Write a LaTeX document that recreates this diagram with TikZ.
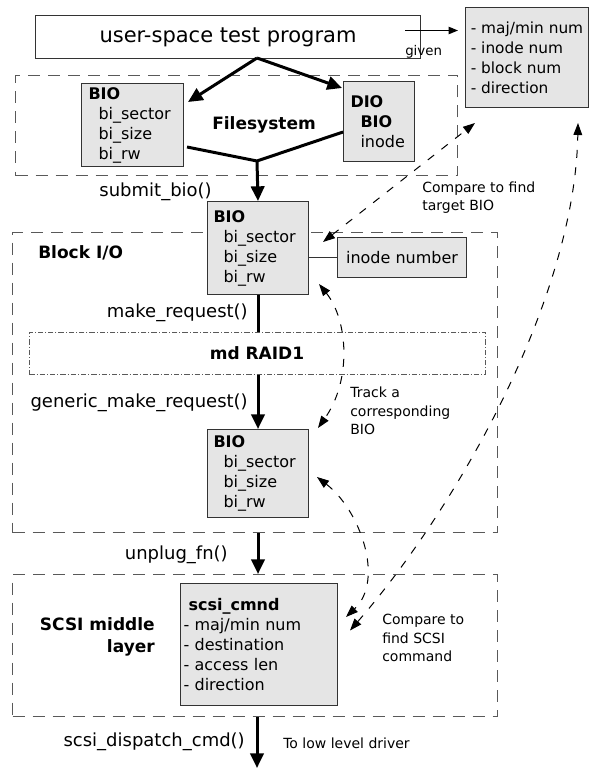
\documentclass[tikz,border=0pt]{standalone}
\usepackage{fontspec}
\setmainfont{DejaVu Sans}
\usetikzlibrary{arrows.meta}
\begin{document}
\begin{tikzpicture}[x=0.75pt,y=-0.75pt,
  box/.style={draw=black!80, line width=0.75pt, inner ysep=0pt, font=\fontsize{12}{15}\selectfont},
  graybox/.style={box, fill=black!10},
  container/.style={draw=black!65, line width=0.75pt, dash pattern=on 9pt off 6pt, inner sep=0pt, anchor=north west},
  raidbox/.style={draw=black!65, line width=0.6pt, dash pattern=on 4pt off 1.5pt on 0.75pt off 1.5pt, inner sep=0pt, anchor=north west},
  flow/.style={line width=2.25pt, -{Triangle[length=11pt,width=10pt]}},
  flowline/.style={line width=2.25pt},
  thinarrow/.style={line width=0.9pt, -{Triangle[length=7pt,width=5.5pt]}},
  track/.style={line width=0.75pt, dash pattern=on 6pt off 7pt, {Triangle[length=9pt,width=6.5pt]}-{Triangle[length=9pt,width=6.5pt]}},
  fn/.style={font=\fontsize{13.5}{16}\selectfont, inner sep=0pt},
  note/.style={font=\fontsize{10.5}{14}\selectfont, inner sep=0pt, align=left},
  head/.style={font=\bfseries\fontsize{12.75}{16}\selectfont, inner sep=0pt},
]
\useasboundingbox (0,0) rectangle (589,770);

% containers
\node[container, minimum width=331.5pt, minimum height=75pt] (fs) at (15,75) {};
\node[container, minimum width=363.75pt, minimum height=225pt] (blockio) at (12,232) {};
\node[raidbox, minimum width=342pt, minimum height=31.5pt] (raid) at (29,332) {};
\node[container, minimum width=363.75pt, minimum height=106.5pt] (scsi) at (12,574) {};

% boxes
\node[box, anchor=north west, minimum width=288.75pt, minimum height=32.25pt, font=\fontsize{15.75}{18}\selectfont] (top) at (35,15) {user-space test program};
\node[graybox, anchor=north west, minimum width=92.25pt, minimum height=75pt, align=left, font=\fontsize{11.5}{15}\selectfont] (given) at (465,7) {- maj/min num\\- inode num\\- block num\\- direction};
\node[graybox, anchor=north west, minimum width=76.5pt, minimum height=62.25pt, inner xsep=5.25pt, text width=66pt, align=left] (bio1) at (81,83) {\textbf{BIO}\\\hspace*{7.5pt}bi\_sector\\\hspace*{7.5pt}bi\_size\\\hspace*{7.5pt}bi\_rw};
\node[graybox, anchor=north west, minimum width=53.25pt, minimum height=60pt, inner xsep=5.25pt, text width=42.75pt, align=left] (dio) at (343,81) {\textbf{DIO}\\\hspace*{7.5pt}\textbf{BIO}\\\hspace*{7.5pt}inode};
\node[graybox, anchor=north west, minimum width=75.75pt, minimum height=69.75pt, inner xsep=4.5pt, text width=66.75pt, align=left] (bio2) at (207,201) {\textbf{BIO}\\\hspace*{7.5pt}bi\_sector\\\hspace*{7.5pt}bi\_size\\\hspace*{7.5pt}bi\_rw};
\node[graybox, anchor=north west, minimum width=96.75pt, minimum height=30pt] (inode) at (337,237) {inode number};
\node[graybox, anchor=north west, minimum width=75.75pt, minimum height=66pt, inner xsep=4.5pt, text width=66.75pt, align=left] (bio3) at (207,429) {\textbf{BIO}\\\hspace*{7.5pt}bi\_sector\\\hspace*{7.5pt}bi\_size\\\hspace*{7.5pt}bi\_rw};
\node[graybox, anchor=north west, minimum width=117.75pt, minimum height=91.5pt, inner xsep=2.25pt, text width=113.25pt, align=left] (scsicmnd) at (180,583) {\hspace*{3.75pt}\textbf{scsi\_cmnd}\\- maj/min num\\- destination\\- access len\\- direction};

% bold labels
\node[head] (lfs) at (264,125) {Filesystem};
\node[head, anchor=west] (lblk) at (38,253) {Block I/O};
\node[head] (lraid) at (257,353) {md RAID1};
\node[head, anchor=east, align=right] (lscsi) at (155,637) {SCSI middle\\layer};

% function labels
\node[fn, anchor=east] (lsubmit) at (212,192) {submit\_bio()};
\node[fn, anchor=east] (lmake) at (248,313) {make\_request()};
\node[fn, anchor=east] (lgeneric) at (248,403) {generic\_make\_request()};
\node[fn, anchor=east] (lunplug) at (228,555) {unplug\_fn()};
\node[fn, anchor=east] (ldispatch) at (245,742) {scsi\_dispatch\_cmd()};
\node[note, anchor=west] (ldriver) at (283,743) {To low level driver};
\node[note, anchor=west, font=\fontsize{10}{12}\selectfont] (lgiven) at (405,52) {given};
\node[note, anchor=west] (lcmp1) at (422,197.5) {Compare to find\\target BIO};
\node[note, anchor=west] (ltrack) at (350,411) {Track a\\corresponding\\BIO};
\node[note, anchor=west] (lcmp2) at (382,638) {Compare to\\find SCSI\\command};

% main flow
\coordinate (apex) at (257,58);
\coordinate (fsbot) at (257,161);
\coordinate (drv) at (257,768);
\draw[flow] (apex) -- ([shift={(4,19)}]bio1.north east);
\draw[flow] (apex) -- ([shift={(-1,7)}]dio.north west);
\draw[flowline] ([shift={(3,-20)}]bio1.south east) -- (fsbot) -- ([shift={(0,-30)}]dio.south west);
\draw[flow] (fsbot) -- (bio2.north);
\draw[flowline] (bio2.south) -- (bio2.south |- raid.north);
\draw[flow] (bio3.north |- raid.south) -- (bio3.north);
\draw[flow] (bio3.south |- blockio.south) -- (bio3.south |- scsi.north);
\draw[flow] (drv |- scsi.south) -- (drv);

% thin connectors
\draw[thinarrow] ([shift={(-16,-6.5)}]top.east) -- ([shift={(-7,-27)}]given.west);
\draw[line width=0.75pt, draw=black!80] (bio2.east |- inode.west) -- (inode.west);

% dashed tracking arrows
\draw[track] ([shift={(14,41)}]bio2.north east) -- ([shift={(10,15)}]given.south west);
\draw[track] ([shift={(10,-11)}]bio2.south east) .. controls (348,320) and (352,380) .. ([shift={(9,-1)}]bio3.north east);
\draw[track] ([shift={(8,48)}]bio3.north east) .. controls (360,510) and (385,580) .. ([shift={(8,34)}]scsicmnd.north east);
\draw[track] ([shift={(12,-14)}]scsicmnd.east) .. controls (455,510) and (575,300) .. ([shift={(-11,15)}]given.south east);
\end{tikzpicture}
\end{document}
